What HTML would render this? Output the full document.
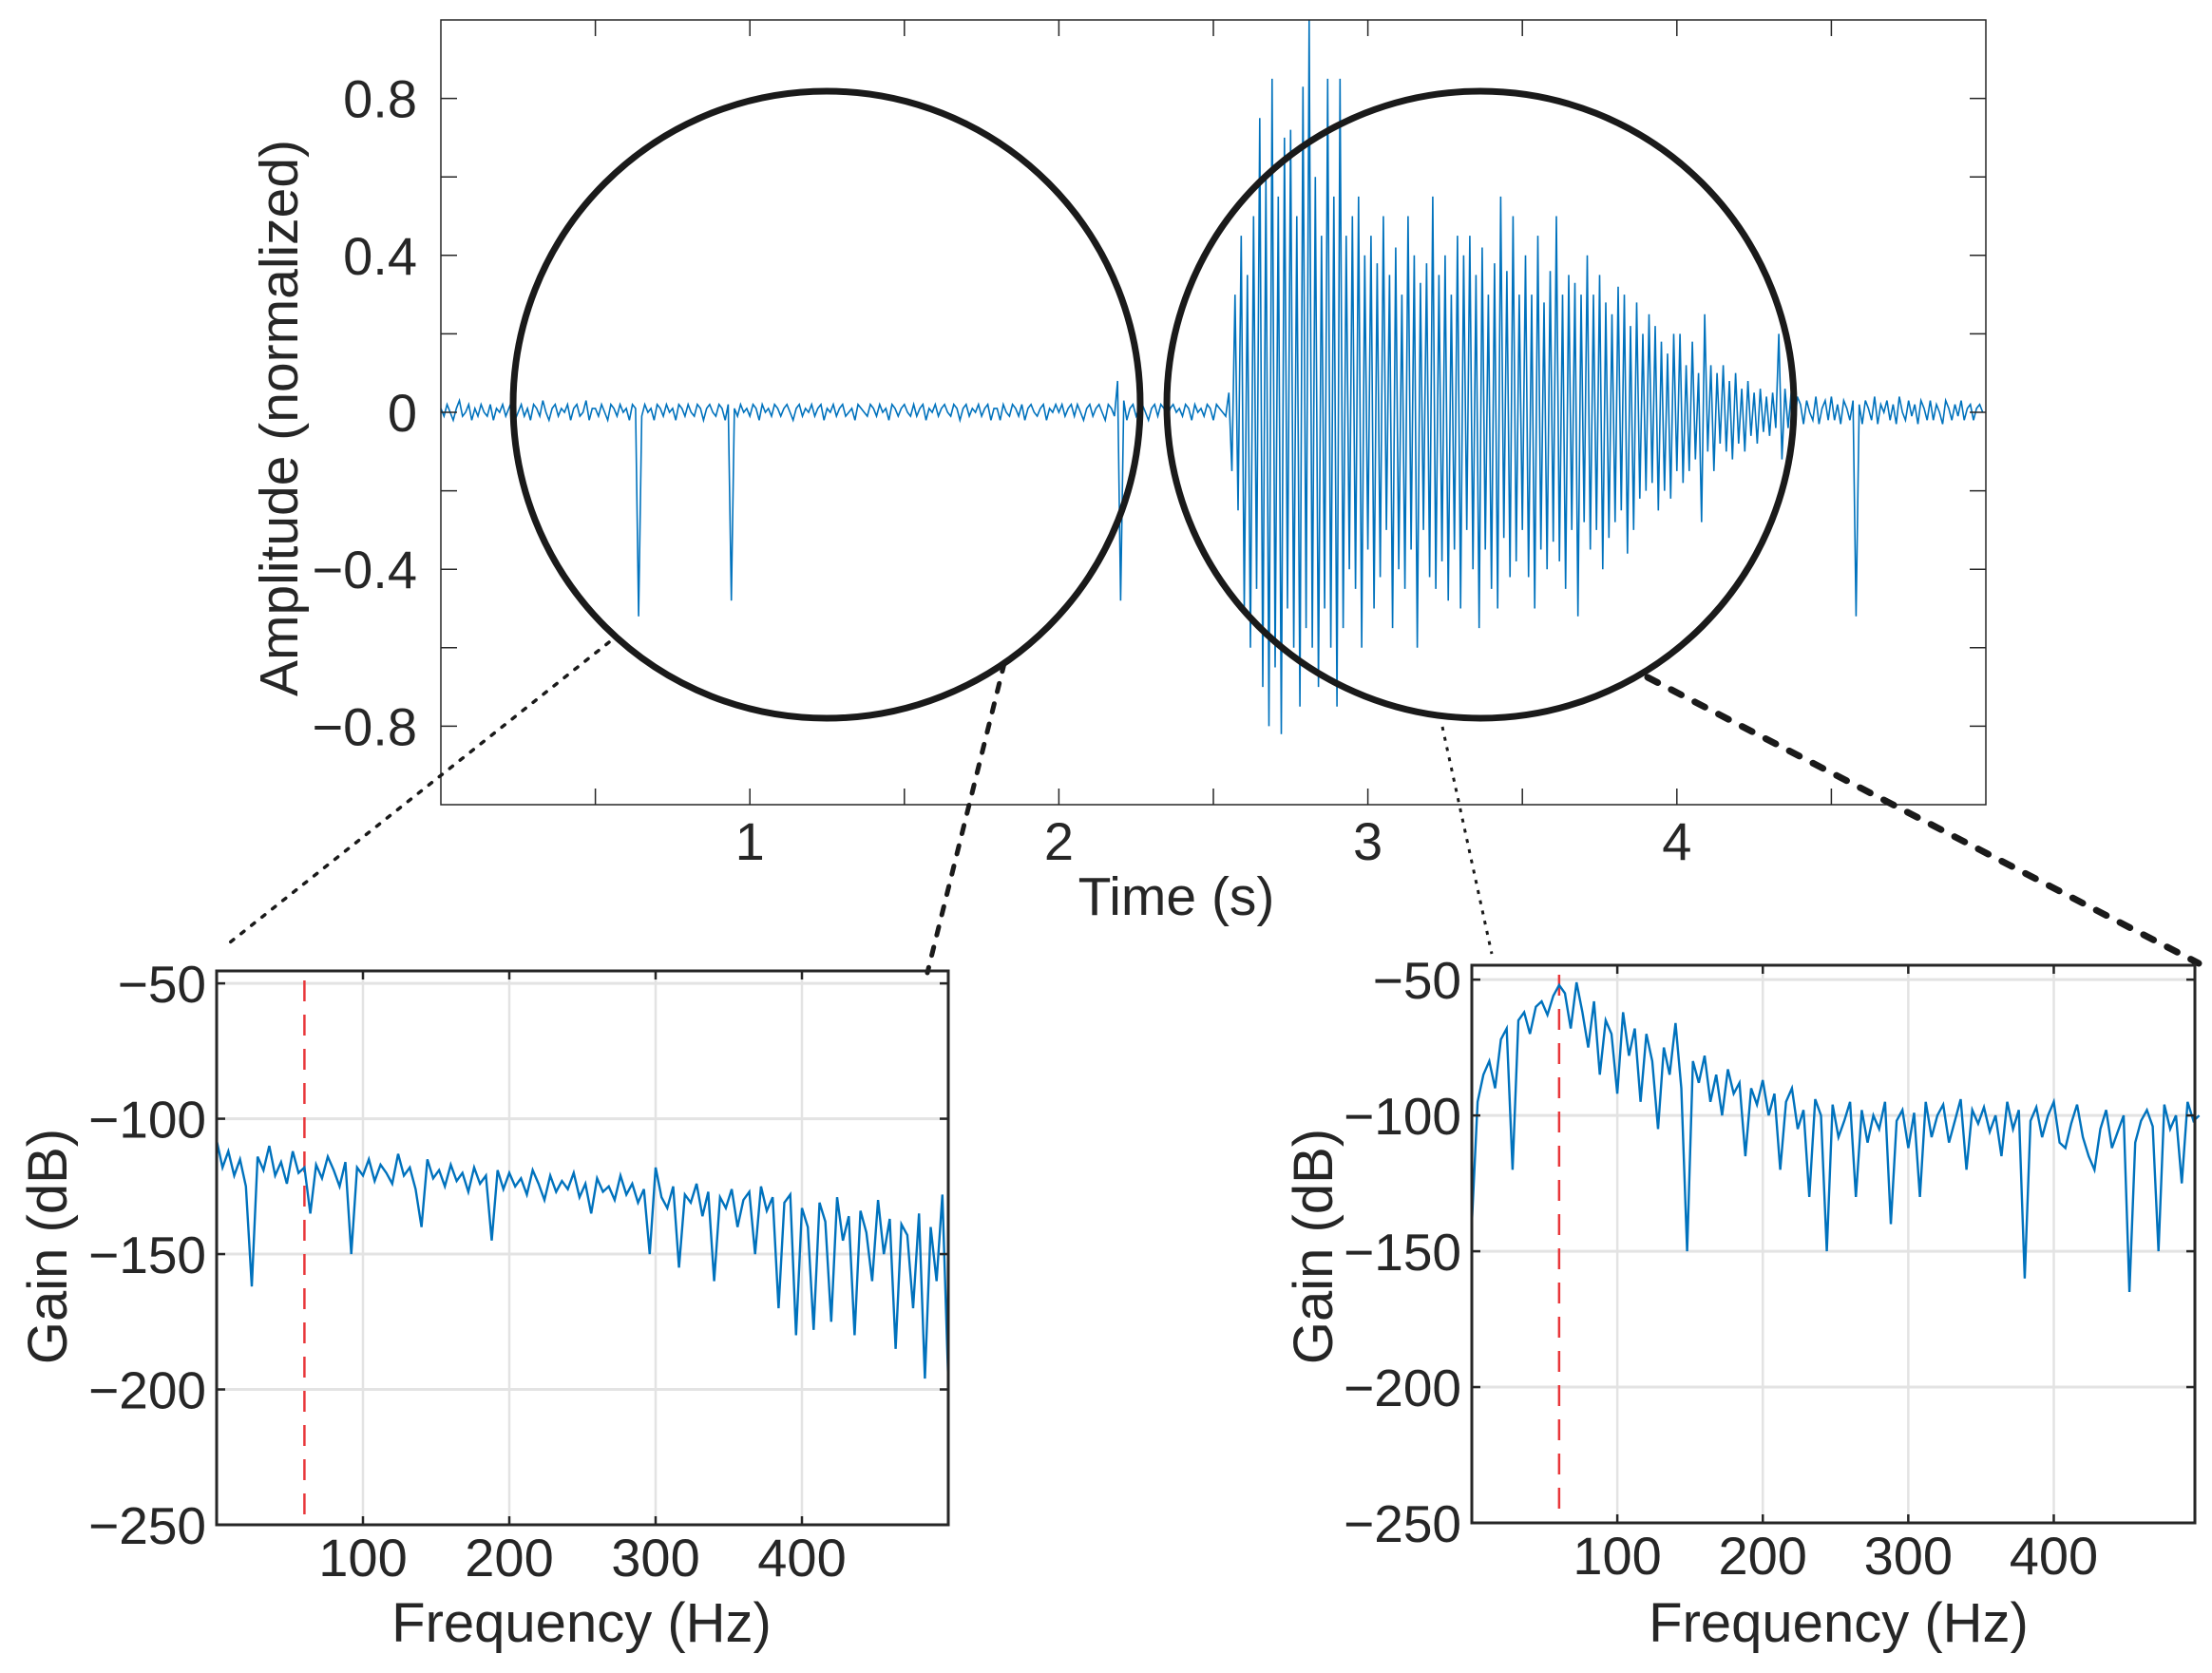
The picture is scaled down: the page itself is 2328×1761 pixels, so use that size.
<!DOCTYPE html>
<html><head><meta charset="utf-8">
<style>
html,body{margin:0;padding:0;background:#fff;}
svg{display:block;}
text{font-family:"Liberation Sans",Arial,sans-serif;fill:#262626;}
</style></head>
<body>
<svg id="fig" xmlns="http://www.w3.org/2000/svg" width="2328" height="1761" viewBox="0 0 2328 1761"></svg>
<script>
// ---- waveform data: amplitude samples every 0.01 s from 0 to 5 s ----
const quietSamples = [
0.01,-0.01,0.02,0,-0.02,0.01,0.03,-0.01,0,0.02,-0.02,0.01,-0.01,0.02,0,-0.01,0.02,-0.02,0.01,0,
0.02,-0.01,0.01,0.03,-0.02,0,0.02,-0.01,0.01,-0.02,0.02,0.01,-0.01,0.03,0,-0.02,0.01,0.02,-0.01,0.01,
0,0.02,-0.02,0.01,0.02,-0.01,0,0.03,-0.02,0.01,0.01,-0.01,0.02,0,-0.02,0.02,0.01,-0.01,0.02,0,
0.01,-0.02,0.02,0.01,-0.52,-0.01,0.02,0,0.01,-0.02,0.02,0.01,-0.01,0.02,0,0.01,-0.02,0.02,0.01,-0.01,
0.02,0,-0.01,0.02,0.01,-0.02,0.01,0.02,0,-0.01,0.02,0.01,-0.02,0.02,-0.48,0.01,-0.01,0.02,0,0.01,
-0.01,0.02,0.01,-0.02,0.02,0,0.01,-0.01,0.02,0.01,-0.01,0.01,0.02,0,-0.02,0.01,0.02,-0.01,0.01,0,
0.02,-0.01,0.01,0.02,-0.02,0.01,0,0.02,-0.01,0.01,0.02,-0.01,0,0.01,-0.02,0.02,0.01,0,-0.01,0.02,
0.01,-0.01,0.02,0,0.01,-0.02,0.02,0.01,-0.01,0.01,0.02,0,-0.01,0.02,-0.01,0.01,0.02,-0.02,0.01,0,
0.02,-0.01,0.01,0.02,0,-0.01,0.02,0.01,-0.02,0.01,0.02,-0.01,0.01,0,0.02,-0.01,0.01,0.02,-0.02,0.01,
0.01,-0.02,0.02,0,-0.01,0.02,0.01,-0.01,0.02,-0.02,0.01,0.02,0,-0.01,0.01,0.02,-0.02,0.01,0,0.02,
0,0.02,-0.01,0.01,0.02,-0.01,0.02,0,-0.02,0.01,0.02,-0.01,0.01,0.02,0,-0.02,0.02,0.01,-0.01,0.08,
-0.48,0.03,-0.02,0.01,0.02,-0.01,0.01,0.02,0,-0.02,0.01,0.02,-0.01,0.02,0.01,-0.02,0.01,0.02,0,0.01,
-0.01,0.02,0.01,-0.02,0.02,0,0.01,-0.01,0.02,0.01,-0.02,0.02,0.01,0,-0.01];
const burstSamples = [
0.05,-0.15,0.3,-0.25,0.45,
-0.5,0.35,-0.6,0.5,-0.45,0.75,-0.7,0.6,-0.8,0.85,
-0.65,0.55,-0.82,0.7,-0.5,0.72,-0.6,0.5,-0.75,0.83,
-0.55,1.0,-0.6,0.6,-0.7,0.45,-0.5,0.85,-0.6,0.55,
-0.75,0.85,-0.55,0.45,-0.4,0.5,-0.45,0.55,-0.6,0.4,
-0.35,0.45,-0.5,0.38,-0.42,0.5,-0.3,0.35,-0.55,0.42,
-0.4,0.3,-0.45,0.5,-0.35,0.4,-0.6,0.33,-0.3,0.38,
-0.42,0.55,-0.45,0.35,-0.38,0.4,-0.48,0.3,-0.35,0.45,
-0.5,0.4,-0.3,0.45,-0.4,0.35,-0.55,0.42,-0.35,0.3,
-0.45,0.38,-0.5,0.55,-0.32,0.36,-0.42,0.5,-0.38,0.3,
-0.3,0.4,-0.42,0.3,-0.5,0.45,-0.35,0.28,-0.4,0.36,
-0.33,0.5,-0.38,0.3,-0.45,0.35,-0.3,0.33,-0.52,0.3,
-0.28,0.4,-0.35,0.3,-0.3,0.35,-0.4,0.28,-0.32,0.25,
-0.28,0.32,-0.25,0.3,-0.36,0.22,-0.3,0.28,-0.22,0.2,
-0.2,0.25,-0.18,0.22,-0.25,0.18,-0.2,0.15,-0.22,0.2,
-0.15,0.2,-0.18,0.12,-0.15,0.18,-0.12,0.1,-0.28,0.25,
-0.1,0.12,-0.15,0.1,-0.08,0.12,-0.1,0.08,-0.12,0.1,
-0.08,0.06,-0.1,0.08,-0.06,0.05,-0.08,0.06,-0.05,0.04,
-0.06,0.05,-0.04,0.2,-0.12,0.06,-0.04,0.05,-0.05,0.04];
const tailSamples = [
0.02,-0.03,0.03,0,-0.02,0.04,-0.03,0.01,0.03,-0.02,
0.04,-0.02,0.02,-0.03,0.03,0.01,-0.02,0.03,-0.52,0.02,
-0.03,0.03,0.01,-0.02,0.04,-0.03,0.02,0,0.03,-0.02,
0.02,-0.03,0.04,0,-0.02,0.03,-0.01,0.02,-0.03,0.03,
0.01,-0.02,0.03,-0.02,0.02,0,-0.03,0.03,0.01,-0.02,
0.02,-0.01,0.03,-0.02,0.01,0.02,-0.02,0.01,0.02,0];
const waveStep = 0.01;
const timeTicks = [0.5,1,1.5,2,2.5,3,3.5,4,4.5];
const timeTickLabels = ["","1","","2","","3","","4",""];
const ampTicks = [-0.8,-0.6,-0.4,-0.2,0,0.2,0.4,0.6,0.8];
const ampTickLabels = ["\u22120.8","","\u22120.4","","0","","0.4","","0.8"];

// ---- spectra: gain (dB) every 4 Hz, 0..500 Hz ----
const specStep = 4;
const gainLeft = [
-108,-118,-112,-121,-115,-125,-162,-114,-119,-110,
-121,-116,-124,-112,-120,-118,-135,-117,-122,-114,
-119,-125,-116,-150,-118,-121,-115,-123,-117,-120,
-124,-113,-121,-118,-126,-140,-115,-122,-119,-125,
-117,-123,-120,-127,-118,-124,-121,-145,-119,-126,
-120,-125,-122,-128,-119,-124,-130,-121,-127,-123,
-126,-120,-129,-124,-135,-122,-127,-125,-130,-121,
-128,-124,-131,-126,-150,-118,-129,-133,-125,-155,
-128,-131,-124,-136,-127,-160,-129,-133,-126,-140,
-130,-127,-150,-125,-134,-129,-170,-131,-128,-180,
-133,-140,-178,-131,-138,-175,-129,-145,-136,-180,
-134,-142,-160,-130,-150,-137,-185,-139,-143,-170,
-135,-196,-140,-160,-128,-197];
const gainRight = [
-140,-95,-85,-80,-90,-72,-68,-120,-65,-62,
-70,-60,-58,-63,-56,-52,-55,-68,-51,-62,
-75,-58,-85,-65,-70,-92,-62,-78,-68,-95,
-70,-80,-105,-75,-85,-66,-90,-150,-80,-88,
-78,-95,-85,-100,-83,-92,-88,-115,-90,-96,
-87,-100,-92,-120,-95,-90,-105,-98,-130,-94,
-100,-150,-96,-108,-102,-95,-130,-98,-110,-100,
-105,-95,-140,-102,-98,-112,-99,-130,-95,-108,
-100,-96,-110,-102,-94,-120,-98,-103,-97,-106,
-100,-115,-95,-105,-98,-160,-102,-97,-108,-100,
-95,-110,-112,-103,-96,-108,-115,-120,-105,-98,
-112,-106,-100,-165,-110,-102,-98,-104,-150,-96,
-105,-100,-125,-95,-102,-100];
const freqTicks = [100,200,300,400];
const freqTickLabels = ["100","200","300","400"];
const gainTicks = [-250,-200,-150,-100,-50];
const gainTickLabels = ["\u2212250","\u2212200","\u2212150","\u2212100","\u221250"];
const markerFreq = 60;

const NS = "http://www.w3.org/2000/svg";
const svg = document.getElementById("fig");
function mk(tag, attrs, parent){
  const e = document.createElementNS(NS, tag);
  for (const k in attrs) e.setAttribute(k, attrs[k]);
  (parent || svg).appendChild(e);
  return e;
}

// ===== top waveform axes =====
const T = {l:464, r:2090, t:21, b:847, x0:0, x1:5, y0:-1, y1:1};
const tx = v => T.l + (v - T.x0) / (T.x1 - T.x0) * (T.r - T.l);
const ty = v => T.b - (v - T.y0) / (T.y1 - T.y0) * (T.b - T.t);

const topG = mk("g", {});



const wave = quietSamples.concat(burstSamples, tailSamples);
let d = "";
wave.forEach((v, i) => { d += (i ? "L" : "M") + tx(i * waveStep).toFixed(1) + " " + ty(v).toFixed(1); });
const wl = mk("path", {d:d, fill:"none", stroke:"#0072BD", "stroke-width":1.6, "stroke-linejoin":"miter"}, topG);



const box = mk("rect", {x:T.l, y:T.t, width:T.r-T.l, height:T.b-T.t, fill:"none", stroke:"#262626", "stroke-width":1.5}, topG);



timeTicks.forEach((v, i) => {
  const x = tx(v);
  mk("line", {x1:x, x2:x, y1:T.b, y2:T.b-17, stroke:"#262626", "stroke-width":1.5}, topG);
  mk("line", {x1:x, x2:x, y1:T.t, y2:T.t+17, stroke:"#262626", "stroke-width":1.5}, topG);
  if (timeTickLabels[i]) {
    const t = mk("text", {x:x, y:905, "font-size":56, "text-anchor":"middle"}, topG);
    t.textContent = timeTickLabels[i];
    
    
  }
});
ampTicks.forEach((v, i) => {
  const y = ty(v);
  mk("line", {x1:T.l, x2:T.l+17, y1:y, y2:y, stroke:"#262626", "stroke-width":1.5}, topG);
  mk("line", {x1:T.r, x2:T.r-17, y1:y, y2:y, stroke:"#262626", "stroke-width":1.5}, topG);
  if (ampTickLabels[i]) {
    const t = mk("text", {x:439, y:y+20, "font-size":56, "text-anchor":"end"}, topG);
    t.textContent = ampTickLabels[i];
    
    
  }
});
const xl = mk("text", {x:1238, y:963, "font-size":57, "text-anchor":"middle"}, topG);
xl.textContent = "Time (s)";


const yl = mk("text", {x:0, y:0, "font-size":57, "text-anchor":"middle", transform:"translate(313,440) rotate(-90)"}, topG);
yl.textContent = "Amplitude (normalized)";



// ===== circles and connector lines =====
const c1 = mk("circle", {cx:870, cy:426, r:330, fill:"none", stroke:"#1a1a1a", "stroke-width":7});


const c2 = mk("circle", {cx:1558, cy:426, r:330, fill:"none", stroke:"#1a1a1a", "stroke-width":7});



const cl1 = mk("line", {x1:641, y1:676, x2:242, y2:992, stroke:"#1a1a1a", "stroke-width":3.5, "stroke-dasharray":"4 10", "stroke-linecap":"round"});


const cl2 = mk("line", {x1:1057, y1:698, x2:976, y2:1024, stroke:"#1a1a1a", "stroke-width":5, "stroke-dasharray":"9 13", "stroke-linecap":"round"});


const cl3 = mk("line", {x1:1518, y1:765, x2:1570, y2:1004, stroke:"#1a1a1a", "stroke-width":3, "stroke-dasharray":"4 7"});


const cl4 = mk("line", {x1:1734, y1:713, x2:2314, y2:1014, stroke:"#1a1a1a", "stroke-width":7, "stroke-dasharray":"12 16", "stroke-linecap":"round"});



// ===== spectrum axes =====
function spectrum(A, gains, name){
  const fx = v => A.l + v / A.xmax * (A.r - A.l);
  const gy = v => A.b - (v - (-250)) / (A.ytop - (-250)) * (A.b - A.t);
  const g = mk("g", {});
  
  
  gainTicks.forEach(v => {
    mk("line", {x1:A.l, x2:A.r, y1:gy(v), y2:gy(v), stroke:"#e3e3e3", "stroke-width":3}, g);
  });
  freqTicks.forEach(v => {
    mk("line", {x1:fx(v), x2:fx(v), y1:A.t, y2:A.b, stroke:"#e3e3e3", "stroke-width":2.5}, g);
  });
  const mx = fx(markerFreq);
  const red = mk("line", {x1:mx, x2:mx, y1:A.t+10, y2:A.b, stroke:"#e8373a", "stroke-width":2.5, "stroke-dasharray":"22 14"}, g);
  
  
  let p = "";
  gains.forEach((v, i) => { p += (i ? "L" : "M") + fx(i * specStep).toFixed(1) + " " + gy(v).toFixed(1); });
  const sl = mk("path", {d:p, fill:"none", stroke:"#0072BD", "stroke-width":2.4}, g);
  
  
  const bx = mk("rect", {x:A.l, y:A.t, width:A.r-A.l, height:A.b-A.t, fill:"none", stroke:"#262626", "stroke-width":3}, g);
  
  
  freqTicks.forEach((v, i) => {
    mk("line", {x1:fx(v), x2:fx(v), y1:A.b, y2:A.b-9, stroke:"#262626", "stroke-width":2.5}, g);
    mk("line", {x1:fx(v), x2:fx(v), y1:A.t, y2:A.t+9, stroke:"#262626", "stroke-width":2.5}, g);
    const t = mk("text", {x:fx(v), y:A.b+54, "font-size":56, "text-anchor":"middle"}, g);
    t.textContent = freqTickLabels[i];
    
    
  });
  gainTicks.forEach((v, i) => {
    mk("line", {x1:A.l, x2:A.l+9, y1:gy(v), y2:gy(v), stroke:"#262626", "stroke-width":2.5}, g);
    mk("line", {x1:A.r, x2:A.r-9, y1:gy(v), y2:gy(v), stroke:"#262626", "stroke-width":2.5}, g);
    const t = mk("text", {x:A.l-11, y:gy(v)+20, "font-size":55, "text-anchor":"end"}, g);
    t.textContent = gainTickLabels[i];
    
    
  });
  const x = mk("text", {x:A.xlc, y:1728, "font-size":58, "text-anchor":"middle"}, g);
  x.textContent = "Frequency (Hz)";
  
  
  const y = mk("text", {x:0, y:0, "font-size":58, "text-anchor":"middle", transform:"translate(" + A.ylx + ",1312) rotate(-90)"}, g);
  y.textContent = "Gain (dB)";
  
  
}
spectrum({l:228, r:998, t:1022, b:1605, xmax:500, ytop:-45.4, xlc:612, ylx:70}, gainLeft, "spectrum-quiet-axes");
spectrum({l:1549, r:2310, t:1016, b:1603, xmax:497, ytop:-44.7, xlc:1935, ylx:1402}, gainRight, "spectrum-burst-axes");
</script>
</body></html>
